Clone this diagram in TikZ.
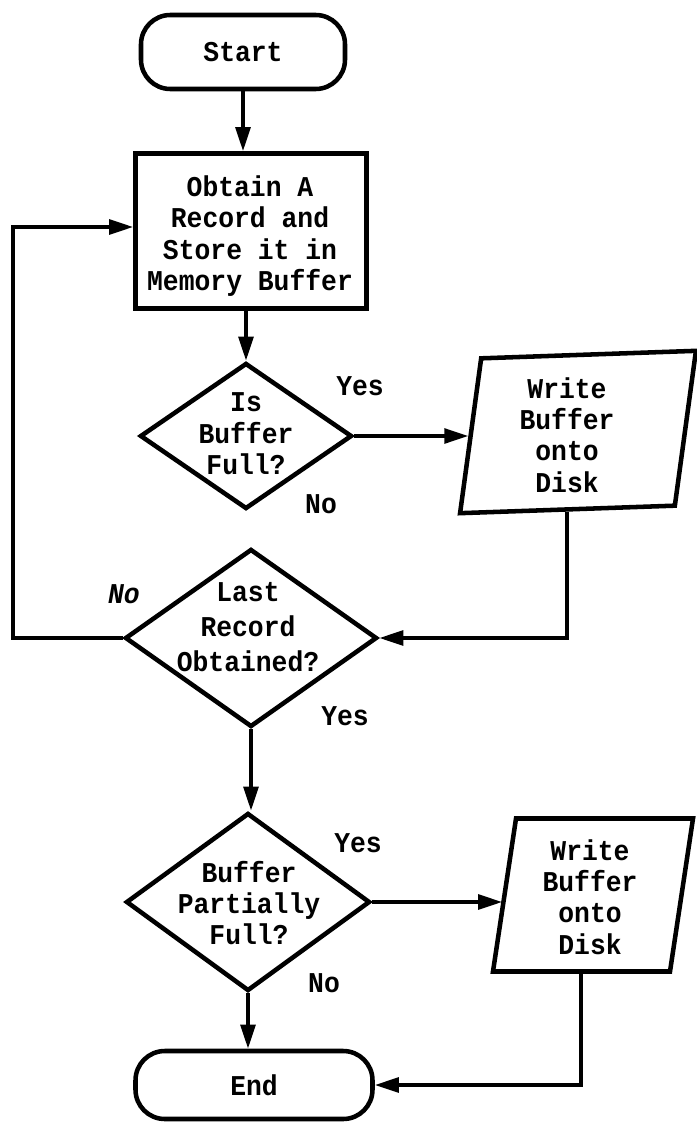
\documentclass[tikz,border=0pt]{standalone}
\usepackage{fontspec}
\setmonofont[FakeStretch=0.92]{Liberation Mono}
\usetikzlibrary{shapes.geometric,arrows.meta}
\newcommand\chartfont{\ttfamily\bfseries\fontsize{21.5}{23.5}\selectfont}
\begin{document}
\begin{tikzpicture}[x=0.75pt,y=-0.75pt,
  every node/.style={font=\chartfont},
  shapeline/.style={draw=black,line width=3.4pt},
  terminal/.style={shapeline,rectangle,rounded corners=22pt,inner sep=0pt},
  process/.style={shapeline,rectangle,inner sep=0pt},
  decision/.style={shapeline,diamond,inner sep=1pt},
  io/.style={shapeline,trapezium,trapezium stretches=true,inner sep=1pt},
  inside/.style={align=center,inner sep=0pt},
  flow/.style={line width=2.8pt,-{Triangle[length=18pt,width=11pt]}},
]
\useasboundingbox (0,0) rectangle (696,1123);

% shapes
\node[terminal,minimum width=153pt,minimum height=55.5pt] (start) at (243,52) {Start};

\node[process,minimum width=173.25pt,minimum height=116.25pt] (store) at (251,231) {};
\node[inside] (storetext) at (250,236) {Obtain A\\Record and\\Store it in\\Memory Buffer};

\node[decision,minimum width=159pt,minimum height=109.5pt] (full) at (246,436) {};
\node[inside] (fulltext) at (246,434) {Is\\Buffer\\Full?};

\node[io,trapezium left angle=82,trapezium right angle=98,rotate=2,
      minimum width=181pt,minimum height=115.5pt] (write1) at (578,432) {};
\node[inside] (write1text) at (567,435) {Write\\Buffer\\onto\\Disk};

\node[decision,minimum width=189pt,minimum height=133.5pt] (last) at (251,638) {};
\node[inside,font=\chartfont\fontsize{21.5}{26}\selectfont] (lasttext) at (248,627) {Last\\Record\\Obtained?};

\node[decision,minimum width=183pt,minimum height=133.5pt] (partial) at (248,902) {};
\node[inside] (partialtext) at (249,903) {Buffer\\Partially\\Full?};

\node[io,trapezium left angle=81.5,trapezium right angle=98.5,
      minimum width=150pt,minimum height=114.75pt] (write2) at (593,895) {};
\node[inside] (write2text) at (590,897) {Write\\Buffer\\onto\\Disk};

\node[terminal,minimum width=177.75pt,minimum height=51pt] (end) at (254,1085) {End};

% branch labels
\node (yes1) at (360,386) {Yes};
\node (no1) at (321,504) {No};
\node[font=\chartfont\itshape] (no2) at (124,594) {No};
\node (yes2) at (345,716) {Yes};
\node (yes3) at (358,843) {Yes};
\node (no3) at (324,983) {No};

% connectors
\coordinate (loopcorner) at (13,227);
\draw[flow] (start.south) -- (start.south |- store.north);
\draw[flow] (full.north |- store.south) -- (full.north);
\draw[flow] (full.east) -- (full.east -| write1.left side);
\draw[flow] (write1.bottom side) |- (last.east);
\draw[flow] (last.west) -| (loopcorner) -- (loopcorner -| store.west);
\draw[flow] (last.south) -- (last.south |- partial.north);
\draw[flow] (partial.east) -- (partial.east -| write2.left side);
\draw[flow] (write2.bottom side) |- (end.east);
\draw[flow] (partial.south) -- (partial.south |- end.north);
\end{tikzpicture}
\end{document}
